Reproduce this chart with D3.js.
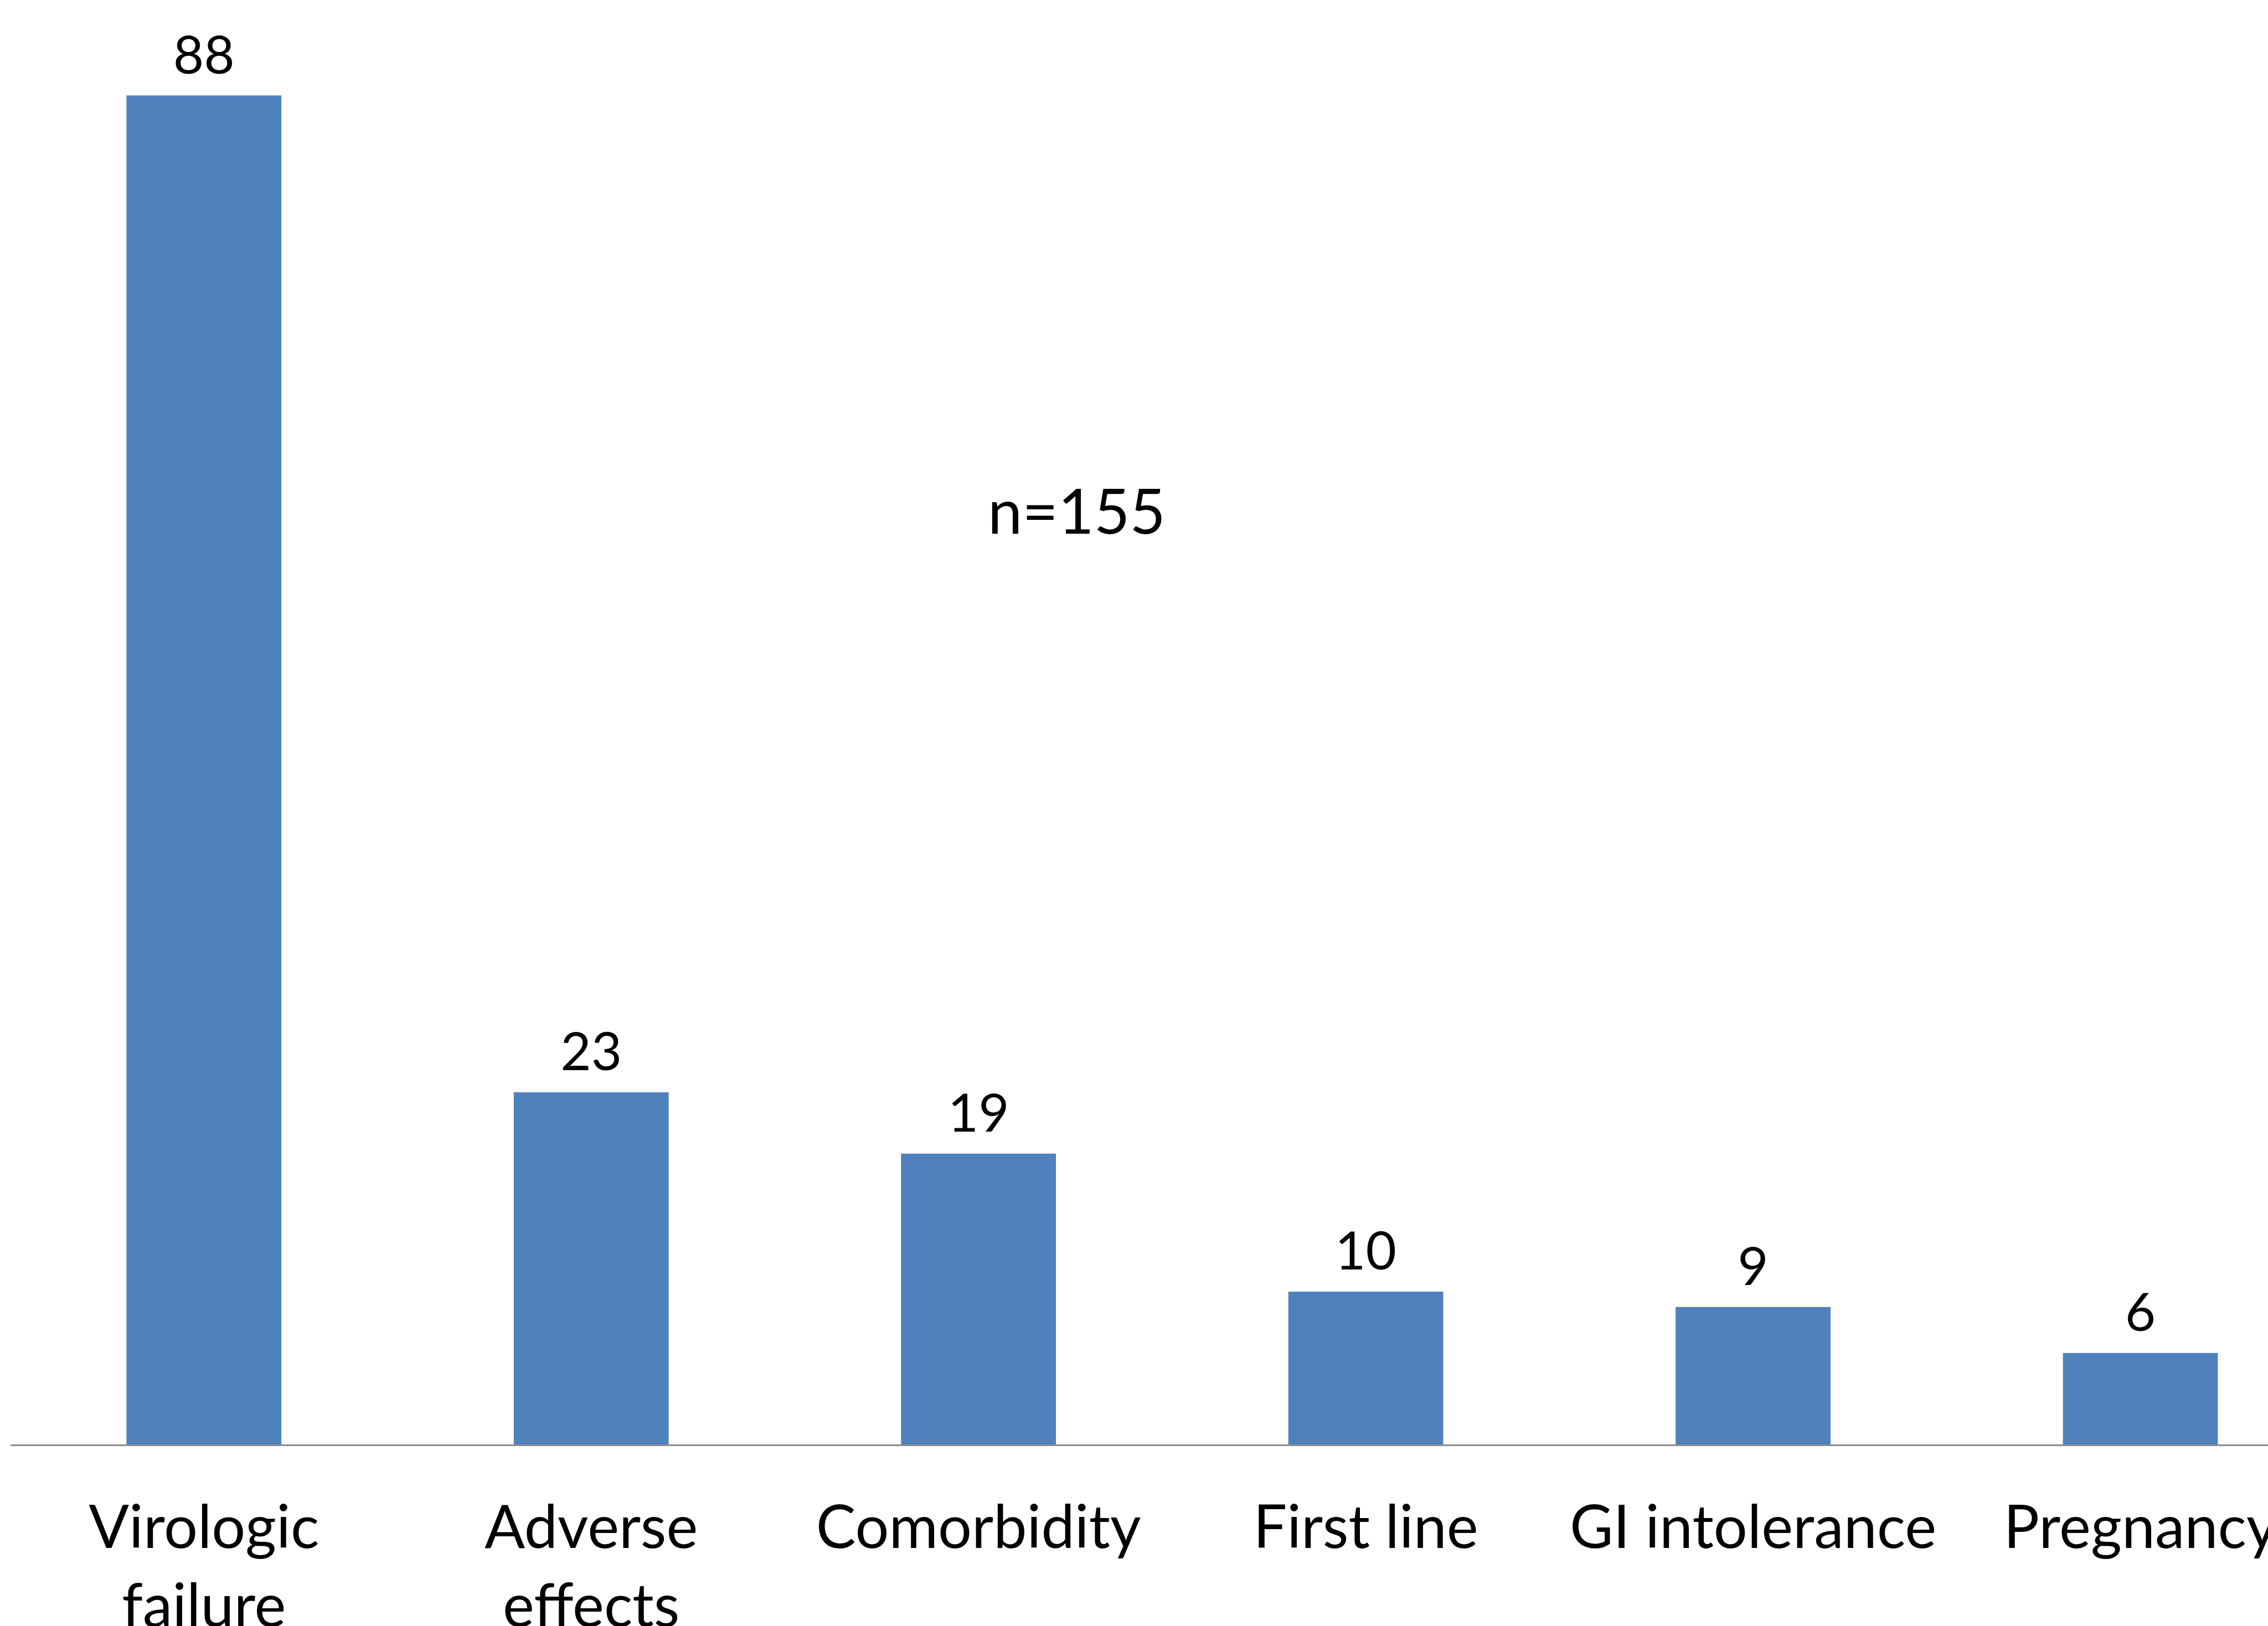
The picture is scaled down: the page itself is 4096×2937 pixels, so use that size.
<!DOCTYPE html>
<html>
<head>
<meta charset="utf-8">
<script src="https://cdn.jsdelivr.net/npm/d3@7"></script>
<style>
  html, body { margin: 0; padding: 0; background: #fff; overflow: hidden; }
  svg { display: block; }
</style>
</head>
<body>
<div id="chart"></div>
<script>
// data
const categories = ['Virologic failure', 'Adverse effects', 'Comorbidity', 'First line', 'GI intolerance', 'Pregnancy'];
const counts = [88, 23, 19, 10, 9, 6];
const labelLines = [['Virologic', 'failure'], ['Adverse', 'effects'], ['Comorbidity'], ['First line'], ['GI intolerance'], ['Pregnancy']];
const note = 'n=155';

// reference is 4110 x 2947, drawn into the window at 0.996
const refW = 4110, refH = 2947;
const width = 4096, height = 2937;

const svg = d3.select('#chart').append('svg')
  .attr('width', width)
  .attr('height', height)
  .attr('viewBox', `0 0 ${refW} ${refH}`);

const font = 'Lato, Carlito, Calibri, sans-serif';
const baseY = 2619;

const xScale = d3.scaleBand()
  .domain(categories)
  .range([18.6, 4229.6])
  .paddingInner(0.6)
  .paddingOuter(0.3);

const yScale = d3.scaleLinear()
  .domain([0, 88])
  .range([baseY, 173]);

const bars = svg.append('g').attr('class', 'bars');
bars.selectAll('rect').data(categories).enter().append('rect')
  .attr('x', d => xScale(d))
  .attr('y', (d, i) => yScale(counts[i]))
  .attr('width', xScale.bandwidth())
  .attr('height', (d, i) => baseY - yScale(counts[i]))
  .attr('fill', '#4f81bd');

// value labels on top of bars
bars.selectAll('.val').data(categories).enter().append('text')
  .attr('class', 'val')
  .attr('x', d => xScale(d) + xScale.bandwidth() / 2)
  .attr('y', (d, i) => yScale(counts[i]) - 40)
  .attr('text-anchor', 'middle')
  .attr('font-family', font)
  .attr('font-size', 96)
  .attr('fill', '#000')
  .text((d, i) => counts[i]);

// category axis, labels wrapped like the original (the second lines run off the bottom there too)
const xAxis = d3.axisBottom(xScale).tickSize(0).tickSizeOuter(0);
const xAxisG = svg.append('g')
  .attr('class', 'x-axis')
  .attr('transform', `translate(0, ${baseY})`)
  .call(xAxis);
xAxisG.select('.domain')
  .attr('stroke', '#8c8c8c')
  .attr('stroke-width', 3);
xAxisG.selectAll('.tick text')
  .attr('font-family', font)
  .attr('font-size', 108)
  .attr('fill', '#000')
  .attr('y', 0)
  .attr('dy', null)
  .text(null)
  .each(function(d) {
    const lines = labelLines[categories.indexOf(d)];
    const t = d3.select(this);
    lines.forEach((ln, k) => {
      t.append('tspan')
        .attr('x', 0)
        .attr('y', 187 + k * 142)
        .text(ln);
    });
  });

svg.append('text')
  .attr('x', 1790)
  .attr('y', 967)
  .attr('font-family', font)
  .attr('font-size', 112)
  .attr('fill', '#000')
  .text(note);
</script>
</body>
</html>
